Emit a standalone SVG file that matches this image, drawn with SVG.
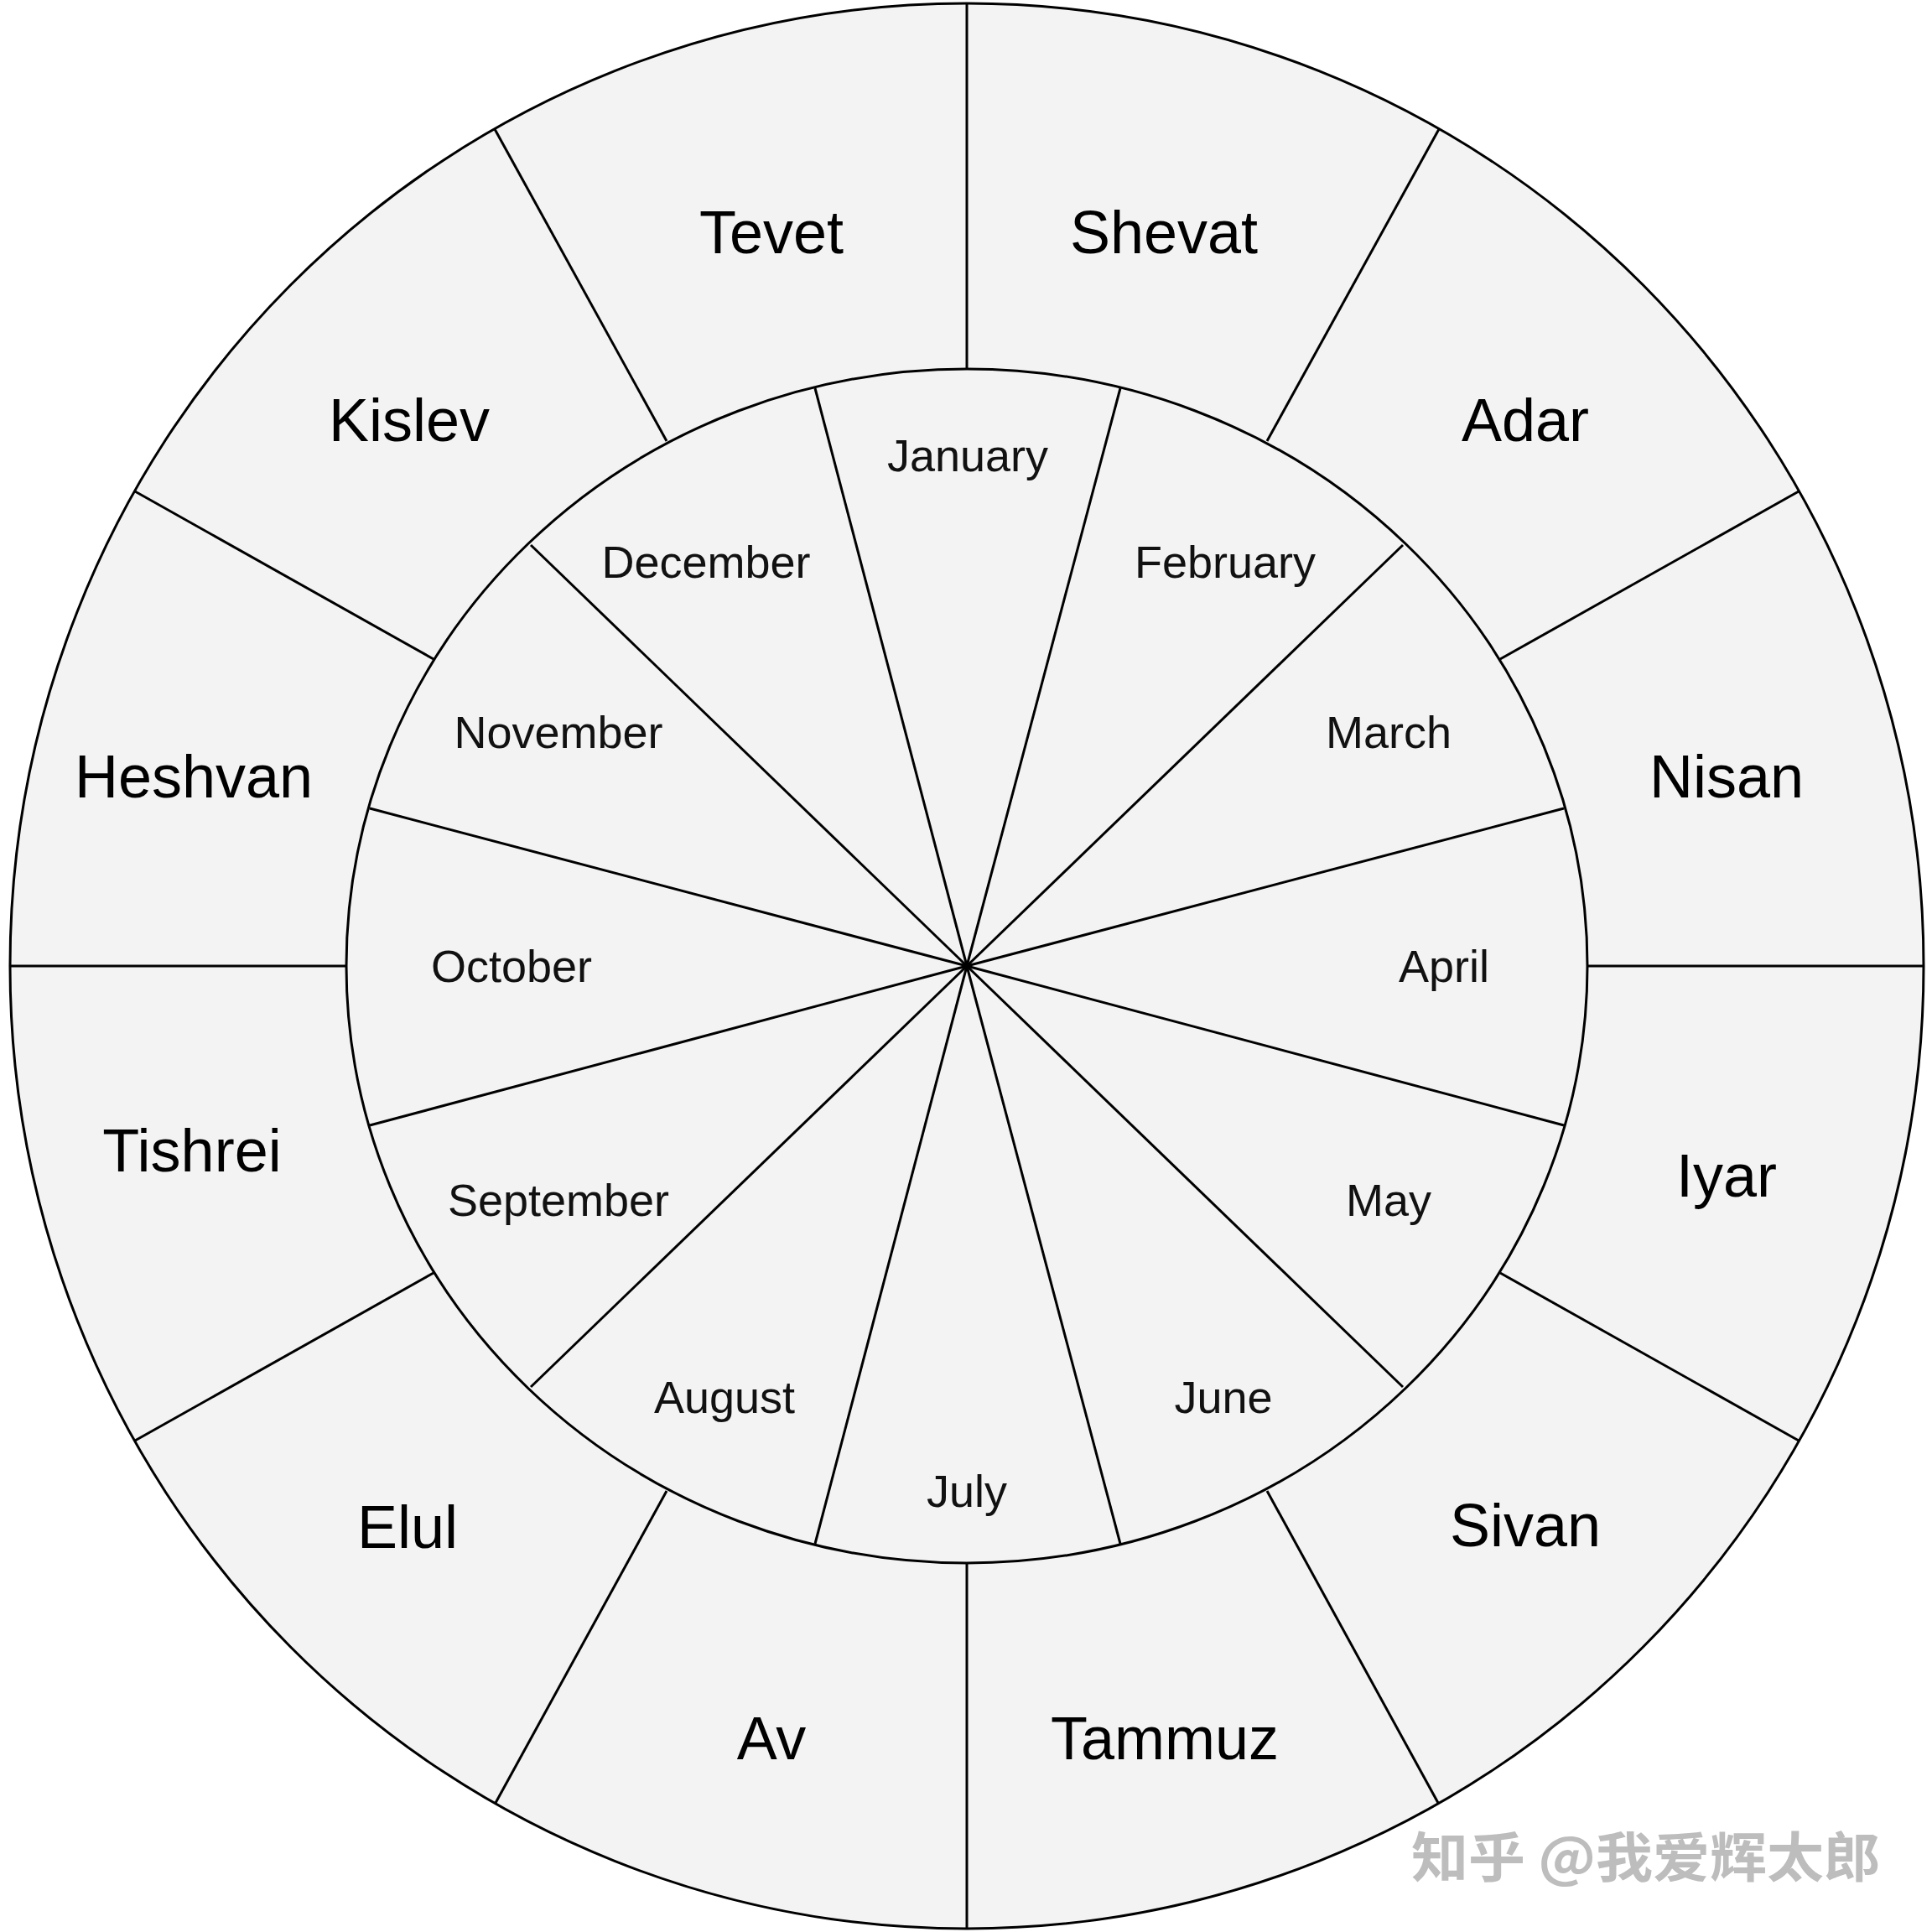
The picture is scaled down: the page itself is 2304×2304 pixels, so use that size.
<svg xmlns="http://www.w3.org/2000/svg" width="2304" height="2304" viewBox="0 0 2304 2304">
  <style>
    .ring { fill: #f3f3f3; stroke: #000; stroke-width: 3; }
    .spoke { stroke: #000; stroke-width: 3; fill: none; stroke-linecap: butt; }
    .heb { font-family: "Liberation Sans", Arial, sans-serif; font-size: 72px; fill: #000; text-anchor: middle; }
    .mon { font-family: "Liberation Sans", Arial, sans-serif; font-size: 54px; fill: #111; text-anchor: middle; }
    .wm { font-family: "Noto Sans CJK SC", "Liberation Sans", sans-serif; font-size: 64px; font-weight: 700; fill: #bdbdbd; }
  </style>
  <rect x="0" y="0" width="2304" height="2304" fill="#ffffff"/>
  <g id="outer-ring">
    <ellipse class="ring" cx="1153" cy="1152" rx="1141" ry="1148"/>
  </g>
  <g id="inner-ring">
    <ellipse class="ring" cx="1153" cy="1152" rx="740" ry="712"/>
  </g>
  <g id="connectors">
    <!-- outer ring dividers -->
    <line class="spoke" x1="1153" y1="440" x2="1153" y2="4"/>
    <line class="spoke" x1="1153" y1="1864" x2="1153" y2="2300"/>
    <line class="spoke" x1="1893" y1="1152" x2="2294" y2="1152"/>
    <line class="spoke" x1="413" y1="1152" x2="12" y2="1152"/>
    <line class="spoke" x1="1511" y1="526" x2="1716" y2="154"/>
    <line class="spoke" x1="795" y1="526" x2="590" y2="154"/>
    <line class="spoke" x1="1511" y1="1778" x2="1715" y2="2150"/>
    <line class="spoke" x1="795" y1="1778" x2="591" y2="2150"/>
    <line class="spoke" x1="1789" y1="786" x2="2145" y2="586"/>
    <line class="spoke" x1="517" y1="786" x2="161" y2="586"/>
    <line class="spoke" x1="1789" y1="1518" x2="2145" y2="1718"/>
    <line class="spoke" x1="517" y1="1518" x2="161" y2="1718"/>
    <!-- inner spokes -->
    <line class="spoke" x1="1153" y1="1152" x2="1336" y2="463"/>
    <line class="spoke" x1="1153" y1="1152" x2="972" y2="463"/>
    <line class="spoke" x1="1153" y1="1152" x2="1336" y2="1841"/>
    <line class="spoke" x1="1153" y1="1152" x2="972" y2="1841"/>
    <line class="spoke" x1="1153" y1="1152" x2="1673" y2="650"/>
    <line class="spoke" x1="1153" y1="1152" x2="633" y2="650"/>
    <line class="spoke" x1="1153" y1="1152" x2="1673" y2="1654"/>
    <line class="spoke" x1="1153" y1="1152" x2="633" y2="1654"/>
    <line class="spoke" x1="1153" y1="1152" x2="1865" y2="964"/>
    <line class="spoke" x1="1153" y1="1152" x2="441" y2="964"/>
    <line class="spoke" x1="1153" y1="1152" x2="1865" y2="1342"/>
    <line class="spoke" x1="1153" y1="1152" x2="441" y2="1342"/>
  </g>
  <g id="hebrew-months">
    <g id="tevet"><text class="heb" x="920" y="302">Tevet</text></g>
    <g id="shevat"><text class="heb" x="1388" y="302">Shevat</text></g>
    <g id="kislev"><text class="heb" x="488" y="526">Kislev</text></g>
    <g id="adar"><text class="heb" x="1819" y="526">Adar</text></g>
    <g id="heshvan"><text class="heb" x="231" y="951">Heshvan</text></g>
    <g id="nisan"><text class="heb" x="2059" y="951">Nisan</text></g>
    <g id="tishrei"><text class="heb" x="229" y="1397">Tishrei</text></g>
    <g id="iyar"><text class="heb" x="2059" y="1427">Iyar</text></g>
    <g id="elul"><text class="heb" x="486" y="1846">Elul</text></g>
    <g id="sivan"><text class="heb" x="1819" y="1844">Sivan</text></g>
    <g id="av"><text class="heb" x="920" y="2098">Av</text></g>
    <g id="tammuz"><text class="heb" x="1389" y="2098">Tammuz</text></g>
  </g>
  <g id="gregorian-months">
    <g id="january"><text class="mon" x="1154" y="562">January</text></g>
    <g id="february"><text class="mon" x="1461" y="689">February</text></g>
    <g id="december"><text class="mon" x="842" y="689">December</text></g>
    <g id="march"><text class="mon" x="1656" y="892">March</text></g>
    <g id="november"><text class="mon" x="666" y="892">November</text></g>
    <g id="april"><text class="mon" x="1722" y="1171">April</text></g>
    <g id="october"><text class="mon" x="610" y="1171">October</text></g>
    <g id="may"><text class="mon" x="1656" y="1450">May</text></g>
    <g id="september"><text class="mon" x="666" y="1450">September</text></g>
    <g id="june"><text class="mon" x="1459" y="1685">June</text></g>
    <g id="august"><text class="mon" x="864" y="1685">August</text></g>
    <g id="july"><text class="mon" x="1153" y="1797">July</text></g>
  </g>
  <g id="watermark">
    <text class="wm" x="1683" y="2238" textLength="560" lengthAdjust="spacingAndGlyphs">知乎 @我爱辉太郎</text>
  </g>
</svg>
